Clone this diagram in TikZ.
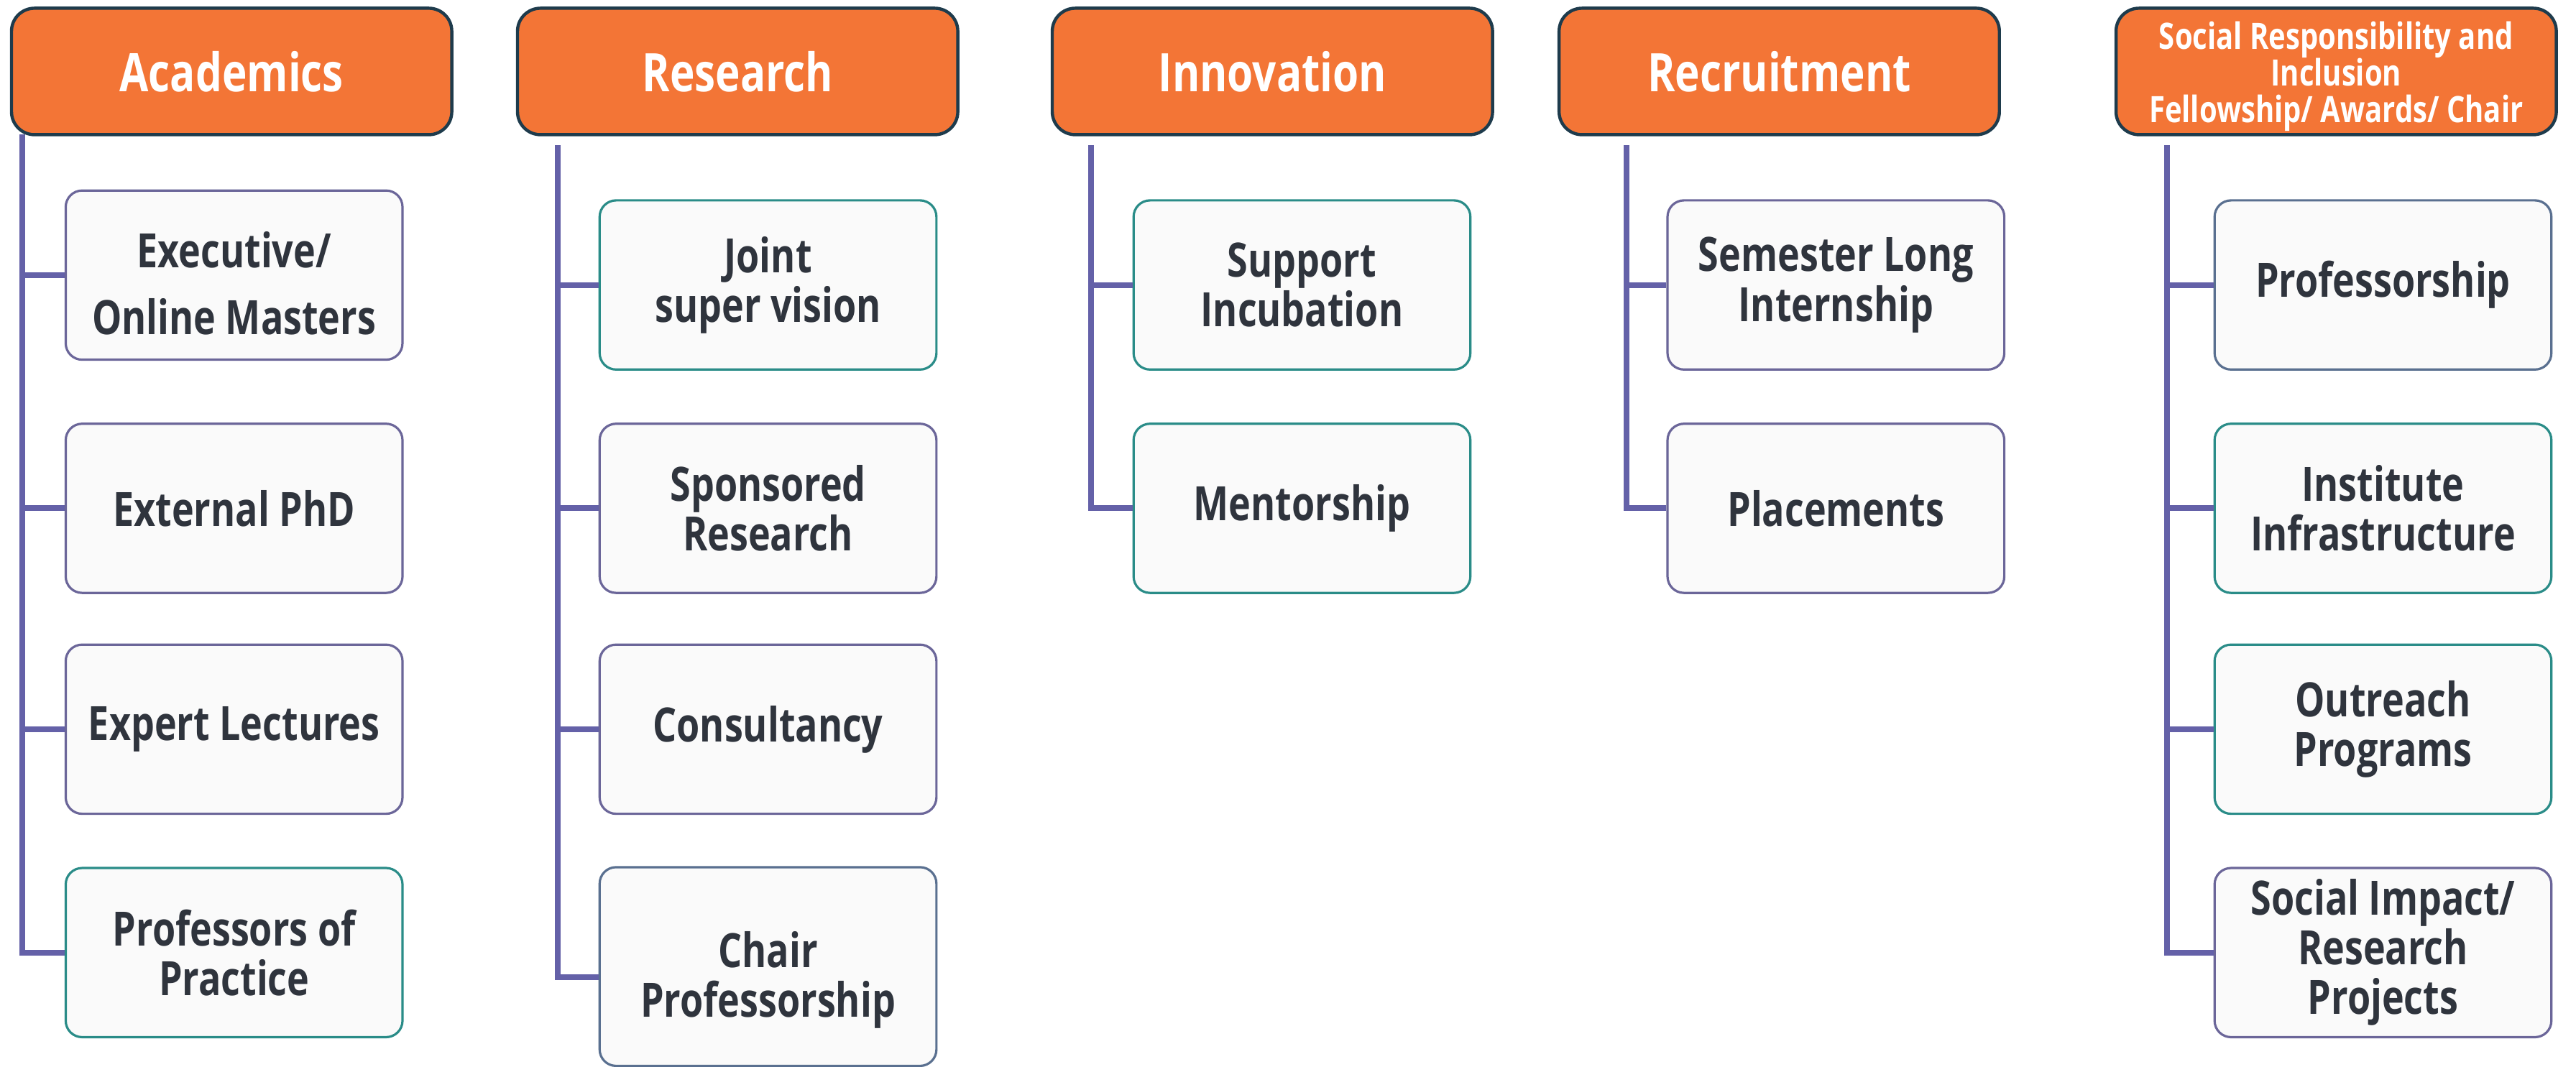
\documentclass[tikz,border=0pt]{standalone}
\usepackage{fontspec}
\newfontfamily\boxfont{Open Sans}[FakeStretch=0.79]
\definecolor{hdorange}{HTML}{F37536}
\definecolor{hdedge}{HTML}{1E3B4C}
\definecolor{trunkc}{HTML}{6461A8}
\definecolor{edgep}{HTML}{6B6699}
\definecolor{edget}{HTML}{2A8C88}
\definecolor{edges}{HTML}{5A7090}
\definecolor{boxfill}{HTML}{FAFAFA}
\definecolor{txt}{HTML}{2F343D}
\begin{document}
\begin{tikzpicture}[
  head/.style={draw=hdedge, line width=1.1pt, fill=hdorange, rounded corners=0.28cm, minimum width=5.36cm, minimum height=1.54cm, inner sep=0pt, text=white, align=center, font=\boxfont\bfseries\fontsize{18.4}{20}\selectfont},
  itemtext/.style={inner sep=0pt, text=txt, align=center, font=\boxfont\bfseries\fontsize{16.4}{17.2}\selectfont},
  item/.style={itemtext, draw=edgep, line width=0.8pt, fill=boxfill, rounded corners=0.2cm, minimum width=4.1cm, minimum height=2.06cm},
  teal/.style={draw=edget}, slate/.style={draw=edges},
  trunk/.style={draw=trunkc, line width=2pt}]
\useasboundingbox[fill=white] (0,0) rectangle (31.36,-12.993);
\node[head] (ah) at (2.82,-0.87) {Academics};
\node[head] (rh) at (8.98,-0.87) {Research};
\node[head] (ih) at (15.49,-0.87) {Innovation};
\node[head] (ch) at (21.66,-0.87) {Recruitment};
\node[head, font=\boxfont\bfseries\fontsize{12.6}{12.8}\selectfont] (sh) at (28.44,-0.87) {};
\node[itemtext, text=white, font=\boxfont\bfseries\fontsize{12.6}{12.8}\selectfont] (sht) at (28.44,-0.93) {Social Responsibility and\\Inclusion\\Fellowship/ Awards/ Chair};
\node[item] (a1) at (2.85,-3.35) {};
\node[itemtext] (a1t) at (2.85,-3.45) {Executive/\\[6pt]Online Masters};
\node[item] (a2) at (2.85,-6.19) {External PhD};
\node[item] (a3) at (2.85,-8.88) {Expert Lectures};
\node[item, teal] (a4) at (2.85,-11.6) {Professors of\\Practice};
\node[item, teal] (r1) at (9.35,-3.47) {Joint\\super vision};
\node[item] (r2) at (9.35,-6.19) {Sponsored\\Research};
\node[item] (r3) at (9.35,-8.88) {Consultancy};
\node[item, slate, minimum height=2.42cm] (r4) at (9.35,-11.77) {};
\node[itemtext] (r4t) at (9.35,-11.93) {Chair\\Professorship};
\node[item, teal] (i1) at (15.85,-3.47) {Support\\Incubation};
\node[item, teal] (i2) at (15.85,-6.19) {Mentorship};
\node[item] (c1) at (22.35,-3.47) {Semester Long\\Internship};
\node[item] (c2) at (22.35,-6.19) {Placements};
\node[item, slate] (s1) at (29.01,-3.47) {Professorship};
\node[item, teal] (s2) at (29.01,-6.19) {Institute\\Infrastructure};
\node[item, teal] (s3) at (29.01,-8.88) {Outreach\\Programs};
\node[item] (s4) at (29.01,-11.6) {Social Impact/\\Research\\Projects};
\coordinate (ta) at (0.27,-1.64); \coordinate (tr) at (6.79,-1.77);
\coordinate (ti) at (13.28,-1.77); \coordinate (tc) at (19.80,-1.77);
\coordinate (ts) at (26.38,-1.77);
\draw[trunk] (ta) |- (a4.west); \draw[trunk] (ta |- a1.west) -- (a1.west);
\draw[trunk] (ta |- a2.west) -- (a2.west); \draw[trunk] (ta |- a3.west) -- (a3.west);
\draw[trunk] (tr) |- ([yshift=-0.13cm]r4.west); \draw[trunk] (tr |- r1.west) -- (r1.west);
\draw[trunk] (tr |- r2.west) -- (r2.west); \draw[trunk] (tr |- r3.west) -- (r3.west);
\draw[trunk] (ti) |- (i2.west); \draw[trunk] (ti |- i1.west) -- (i1.west);
\draw[trunk] (tc) |- (c2.west); \draw[trunk] (tc |- c1.west) -- (c1.west);
\draw[trunk] (ts) |- (s4.west); \draw[trunk] (ts |- s1.west) -- (s1.west);
\draw[trunk] (ts |- s2.west) -- (s2.west); \draw[trunk] (ts |- s3.west) -- (s3.west);
\end{tikzpicture}
\end{document}
